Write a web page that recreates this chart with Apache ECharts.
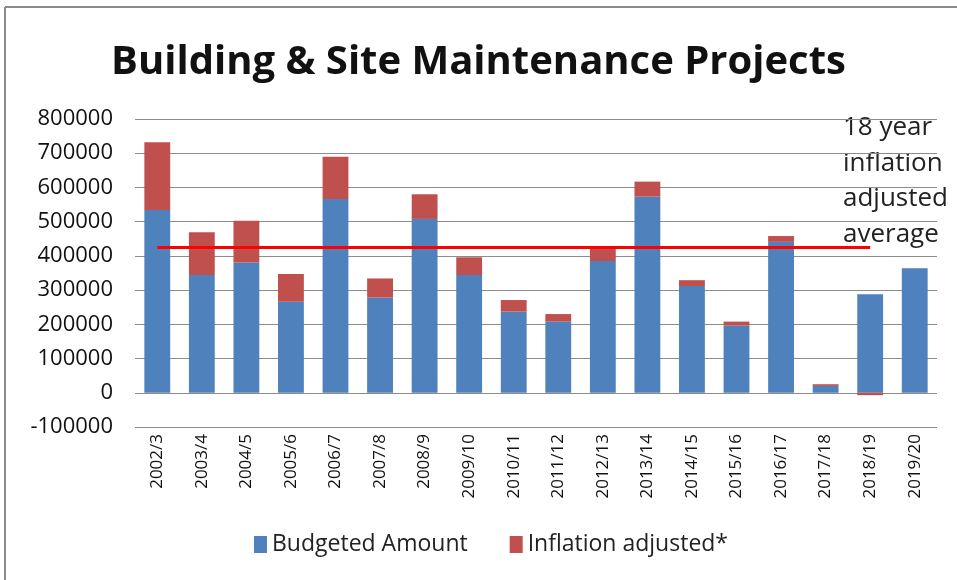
<!DOCTYPE html>
<html>
<head>
<meta charset="utf-8">
<script src="https://cdn.jsdelivr.net/npm/echarts@6/dist/echarts.min.js"></script>
<style>
html,body{margin:0;padding:0;background:#fff;}
#chart{width:957px;height:580px;}
</style>
</head>
<body>
<div id="chart"></div>
<script>
var years = ['2002/3','2003/4','2004/5','2005/6','2006/7','2007/8','2008/9','2009/10','2010/11',
	'2011/12','2012/13','2013/14','2014/15','2015/16','2016/17','2017/18','2018/19','2019/20'];
var budgeted = [534000,344000,381000,266000,566000,278000,508000,344000,237000,
	208000,385000,573000,312000,196000,441000,20000,288000,364000];
var inflationAdj = [198000,125000,122000,81000,124000,56000,72000,52000,34000,
	22000,37000,44000,17000,12000,17000,5000,-7000,0];
var avgValue = 424000;
var yTicks = [-100000,0,100000,200000,300000,400000,500000,600000,700000,800000];

var myChart = echarts.init(document.getElementById('chart'));
var option = {
	animation:false,
	backgroundColor:'#fff',
	title:{
		text:'Building & Site Maintenance Projects',
		left:'center',
		top:38,
		textStyle:{fontFamily:'Open Sans',fontWeight:'bold',fontSize:40,color:'#111'}
	},
	legend:{
		bottom:19,
		left:249,
		itemWidth:13,
		itemHeight:17,
		itemGap:42,
		icon:'rect',
		textStyle:{fontFamily:'Open Sans',fontSize:23,color:'#222'},
		data:['Budgeted Amount','Inflation adjusted*']
	},
	grid:{left:135,right:20,top:119,bottom:153,containLabel:false},
	xAxis:{
		type:'category',
		data:years,
		axisTick:{show:false},
		axisLine:{show:false},
		axisLabel:{rotate:90,fontFamily:'Open Sans',fontSize:17,color:'#111',margin:7,interval:0}
	},
	yAxis:{
		type:'value',
		min:yTicks[0],
		max:yTicks[yTicks.length-1],
		interval:100000,
		axisLine:{show:false},
		axisTick:{show:false},
		splitLine:{lineStyle:{color:'#8c8c8c',width:1}},
		axisLabel:{fontFamily:'Open Sans',fontSize:22,color:'#111',margin:22,
			formatter:function(v){return String(v);}}
	},
	series:[
		{
			name:'Budgeted Amount',
			type:'bar',
			stack:'total',
			barWidth:'58%',
			itemStyle:{color:'#4F81BD'},
			data:budgeted,
			markLine:{
				silent:true,
				symbol:'none',
				label:{show:false},
				lineStyle:{color:'#FF0000',width:3,type:'solid'},
				data:[[{xAxis:years[0],yAxis:avgValue},{xAxis:years[16],yAxis:avgValue}]]
			}
		},
		{
			name:'Inflation adjusted*',
			type:'bar',
			stack:'total',
			itemStyle:{color:'#C0504D'},
			data:inflationAdj
		}
	],
	graphic:[
		{type:'line',shape:{x1:5,y1:7,x2:957,y2:7},style:{stroke:'#8a8a8a',lineWidth:2}},
		{type:'line',shape:{x1:5,y1:7,x2:5,y2:580},style:{stroke:'#8a8a8a',lineWidth:2}},
		{
			type:'text',
			left:843,
			top:110,
			style:{
				text:'18 year\ninflation\nadjusted\naverage',
				font:'26px "Open Sans"',
				lineHeight:35.5,
				fill:'#222'
			}
		}
	]
};
myChart.setOption(option);
window.onresize = myChart.resize;
</script>
</body>
</html>
